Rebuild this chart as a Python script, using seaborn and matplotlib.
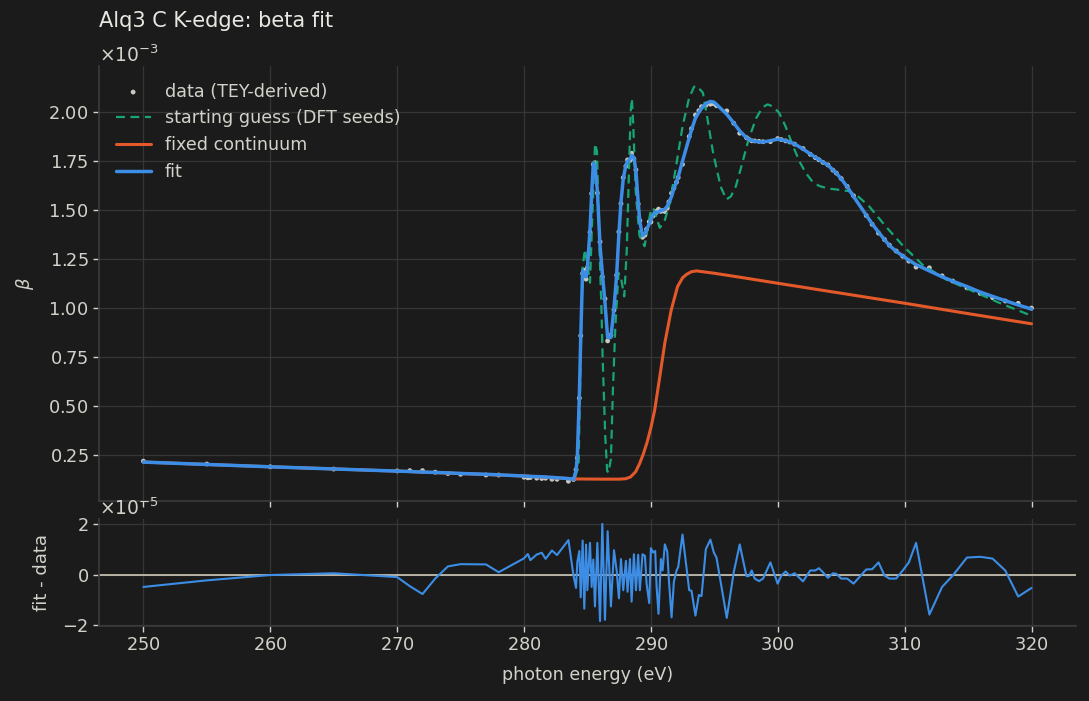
import numpy as np
import pandas as pd
import matplotlib
matplotlib.use("Agg")
import matplotlib.pyplot as plt
import seaborn as sns

# photon energy grid of the measured points (eV)
energy = [
    250, 255, 260, 265, 270, 271, 272, 273, 274, 275, 277, 278, 280, 280.3, 280.5,
    281.0, 281.4, 281.7, 282.2, 282.6, 283.5, 283.9, 284.1, 284.2, 284.36, 284.47,
    284.62, 284.75, 284.89, 284.99, 285.2, 285.33, 285.46, 285.59, 285.78, 285.99,
    286.17, 286.38, 286.59, 286.85, 287.09, 287.3, 287.48, 287.64, 287.82, 288.03,
    288.16, 288.35, 288.48, 288.66, 288.82, 289.0, 289.13, 289.34, 289.53, 289.66,
    289.87, 290.0, 290.18, 290.34, 290.45, 290.6, 290.79, 290.92, 291.1, 291.29,
    291.42, 291.63, 291.81, 292.02, 292.15, 292.49, 293.02, 293.2, 293.51, 293.78,
    293.99, 294.33, 294.69, 294.96, 295.17, 295.98, 296.53, 297.0, 297.53, 297.71,
    297.95, 298.18, 298.52, 298.84, 299.42, 299.99, 300.28, 300.62, 300.94, 301.33,
    301.99, 302.56, 302.96, 303.24, 303.56, 303.95, 304.35, 304.61, 305.0, 305.47,
    305.97, 306.97, 307.44, 307.94, 308.41, 308.8, 309.33, 309.85, 310.33, 310.9,
    311.95, 312.95, 313.79, 314.91, 315.96, 316.93, 317.93, 318.95, 320.0,
]

# fitted beta (units of 1e-3)
beta_fit = [
    0.214, 0.202, 0.190, 0.179, 0.168, 0.166, 0.163, 0.161, 0.159, 0.156, 0.152, 0.149, 0.143, 0.142, 0.141,
    0.140, 0.139, 0.138, 0.136, 0.134, 0.130, 0.125, 0.170, 0.240, 0.550, 0.850,
    1.190, 1.180, 1.160, 1.200, 1.400, 1.580, 1.740, 1.730, 1.600, 1.320,
    1.180, 1.030, 0.850, 0.850, 1.000, 1.170, 1.380, 1.540, 1.660, 1.730,
    1.750, 1.760, 1.780, 1.770, 1.700, 1.540, 1.440, 1.370, 1.380, 1.400,
    1.430, 1.450, 1.480, 1.490, 1.490, 1.490, 1.500, 1.500, 1.505, 1.520,
    1.540, 1.570, 1.610, 1.645, 1.670, 1.750, 1.870, 1.910, 1.970, 2.000,
    2.020, 2.045, 2.055, 2.052, 2.040, 1.990, 1.945, 1.905, 1.870, 1.862,
    1.856, 1.852, 1.849, 1.848, 1.855, 1.862, 1.860, 1.855, 1.848, 1.838,
    1.812, 1.787, 1.770, 1.760, 1.745, 1.730, 1.705, 1.690, 1.660, 1.620,
    1.570, 1.475, 1.430, 1.388, 1.350, 1.320, 1.290, 1.267, 1.245, 1.222,
    1.190, 1.160, 1.138, 1.110, 1.082, 1.060, 1.038, 1.016, 0.995,
]

# residual fit - data (units of 1e-5)
resid = [
    -0.48, -0.22, -0.01, 0.06, -0.09, -0.45, -0.76, -0.15, 0.33, 0.42, 0.41, 0.10, 0.65, 0.82, 0.58,
    0.80, 0.87, 0.63, 0.96, 0.78, 1.37, -0.03, -0.52, 0.50, 0.94, -0.89,
    1.35, -1.34, 1.19, -0.61, 1.26, -0.48, 0.60, -1.25, 1.26, -1.83,
    2.01, -1.78, 1.72, -1.25, 0.97, 0.17, -0.93, 0.62, -0.61, 0.55,
    -0.67, 0.62, -1.06, 0.81, -0.61, 0.79, -0.61, 0.81, 0.75, -0.35,
    -1.12, 1.05, 0.88, 0.94, -0.48, -1.54, 0.62, 0.17, 1.20, 0.92,
    -0.22, -1.68, -0.28, 0.17, 0.30, 1.59, -0.61, -0.63, -1.61, -0.80,
    -0.84, 1.01, 1.39, 0.88, 0.68, -1.70, 0.10, 1.20, -0.05, -0.06,
    0.17, -0.15, -0.25, -0.15, 0.49, -0.35, -0.03, 0.13, -0.03, 0.06,
    -0.26, 0.17, 0.17, 0.26, 0.10, -0.12, 0.06, 0.04, -0.15, -0.15,
    -0.35, 0.21, 0.22, 0.49, -0.03, -0.15, -0.15, 0.17, 0.49, 1.26,
    -1.57, -0.48, -0.03, 0.68, 0.71, 0.64, 0.17, -0.86, -0.52,
]

# starting guess built from DFT seeds (units of 1e-3)
guess_energy = [
    250, 260, 270, 280, 284.0, 284.3, 284.45, 284.6, 284.8, 285.0, 285.2, 285.4,
    285.6, 285.75, 285.95, 286.1, 286.2, 286.4, 286.55, 286.65, 286.85, 287.0,
    287.2, 287.45, 287.65, 287.9, 288.1, 288.25, 288.4, 288.5, 288.6, 288.8,
    289.1, 289.5, 290.0, 290.2, 290.7, 291.1, 291.5, 292.0, 292.5, 293.0,
    293.4, 293.6, 294.1, 294.5, 294.9, 295.5, 295.95, 296.3, 296.7, 297.2,
    297.7, 298.3, 298.8, 299.2, 299.6, 300.1, 300.6, 301.2, 301.7, 302.2,
    302.8, 303.3, 304.0, 304.6, 305.6, 306.3, 307.2, 308.5, 309.9, 311.4,
    313.3, 315.4, 317.5, 320.0,
]
guess_beta = [
    0.214, 0.190, 0.168, 0.143, 0.128, 0.200, 0.700, 1.200, 1.300, 1.220, 1.130, 1.500,
    1.840, 1.800, 1.300, 1.000, 0.740, 0.350, 0.170, 0.160, 0.230, 0.570,
    0.910, 1.180, 1.150, 1.060, 1.300, 1.650, 2.000, 2.070, 1.950, 1.600,
    1.370, 1.316, 1.504, 1.510, 1.410, 1.450, 1.540, 1.730, 1.930, 2.070,
    2.130, 2.135, 2.100, 1.950, 1.794, 1.620, 1.555, 1.570, 1.623, 1.740,
    1.862, 1.970, 2.025, 2.040, 2.030, 1.998, 1.930, 1.828, 1.750, 1.691,
    1.640, 1.623, 1.610, 1.606, 1.597, 1.572, 1.520, 1.418, 1.316, 1.222,
    1.145, 1.086, 1.026, 0.961,
]

# fixed atomic-like continuum (units of 1e-3)
cont_energy = [
    250, 260, 270, 280, 284, 286, 287.5, 288.0, 288.4, 288.8, 289.1, 289.4, 289.7,
    290.0, 290.3, 290.7, 291.1, 291.6, 292.1, 292.5, 292.8, 293.2, 293.6,
    295, 297, 300, 305, 310, 315, 320,
]
cont_beta = [
    0.214, 0.190, 0.168, 0.143, 0.128, 0.127, 0.127, 0.129, 0.138, 0.165, 0.205, 0.255, 0.315,
    0.390, 0.480, 0.650, 0.823, 0.990, 1.110, 1.155, 1.172, 1.186, 1.190,
    1.178, 1.158, 1.127, 1.076, 1.025, 0.972, 0.920,
]

fit_df = pd.DataFrame({
    "energy": energy,
    "fit": np.array(beta_fit) * 1e-3,
    "resid": np.array(resid) * 1e-5,
})
fit_df["data"] = fit_df["fit"] - fit_df["resid"]
guess_df = pd.DataFrame({"energy": guess_energy, "beta": np.array(guess_beta) * 1e-3})
cont_df = pd.DataFrame({"energy": cont_energy, "beta": np.array(cont_beta) * 1e-3})

bg = "#1b1b1b"
fg = "#d2d2ca"
sns.set_theme(style="darkgrid", rc={
    "figure.facecolor": bg,
    "axes.facecolor": bg,
    "axes.edgecolor": "#3a3a3a",
    "axes.labelcolor": fg,
    "text.color": fg,
    "xtick.color": fg,
    "ytick.color": fg,
    "grid.color": "#363636",
    "grid.linewidth": 0.9,
    "axes.formatter.use_mathtext": True,
    "xtick.bottom": True,
    "ytick.left": True,
    "xtick.major.size": 4,
    "ytick.major.size": 4,
    "xtick.major.width": 1,
    "ytick.major.width": 1,
})
plt.rcParams["font.family"] = ["DejaVu Sans"]

fig = plt.figure(figsize=(10.89, 7.01), dpi=100)
ax = fig.add_axes([0.0909, 0.2853, 0.8971, 0.6205])
axr = fig.add_axes([0.0909, 0.1070, 0.8971, 0.1526], sharex=ax)

sns.scatterplot(data=fit_df, x="energy", y="data", ax=ax, s=12, color="#c8c8c0",
                edgecolor="none", label="data (TEY-derived)", zorder=2)
sns.lineplot(data=guess_df, x="energy", y="beta", ax=ax, color="#17a673",
             linestyle=(0, (4, 2.5)), linewidth=1.6, label="starting guess (DFT seeds)", zorder=3)
sns.lineplot(data=cont_df, x="energy", y="beta", ax=ax, color="#e4592a",
             linewidth=2.2, label="fixed continuum", zorder=3)
sns.lineplot(data=fit_df, x="energy", y="fit", ax=ax, color="#3b8de6",
             linewidth=2.5, label="fit", zorder=4)

ax.ticklabel_format(axis="y", style="sci", scilimits=(0, 0), useMathText=True)
ax.set_title("Alq3 C K-edge: beta fit", loc="left", fontsize=15, color="#e8e8e2", pad=28)
ax.set_ylabel(r"$\beta$", fontsize=13, labelpad=9)
ax.set_xlabel("")
ax.tick_params(labelbottom=False, labelsize=12.8)
leg = ax.legend(loc="upper left", frameon=False, fontsize=12.6,
                labelspacing=0.5, handletextpad=0.8, borderaxespad=0.55)
for t in leg.get_texts():
    t.set_color(fg)

axr.axhline(0, color="#dcd8c6", linewidth=1.1, zorder=1)
sns.lineplot(data=fit_df, x="energy", y="resid", ax=axr, color="#3b8de6", linewidth=1.5, zorder=3)
axr.set_yticks([-2e-5, 0, 2e-5])
axr.ticklabel_format(axis="y", style="sci", scilimits=(0, 0), useMathText=True)
axr.set_ylabel("fit - data", fontsize=13, labelpad=8)
axr.set_xlabel("photon energy (eV)", fontsize=12.6, labelpad=8)
axr.tick_params(labelsize=12.8)

for a in (ax, axr):
    for s in ("top", "right"):
        a.spines[s].set_visible(False)
    a.yaxis.get_offset_text().set_fontsize(13.5)
    a.yaxis.get_offset_text().set_color(fg)

fig.savefig("out.png", dpi=100, facecolor=bg)
